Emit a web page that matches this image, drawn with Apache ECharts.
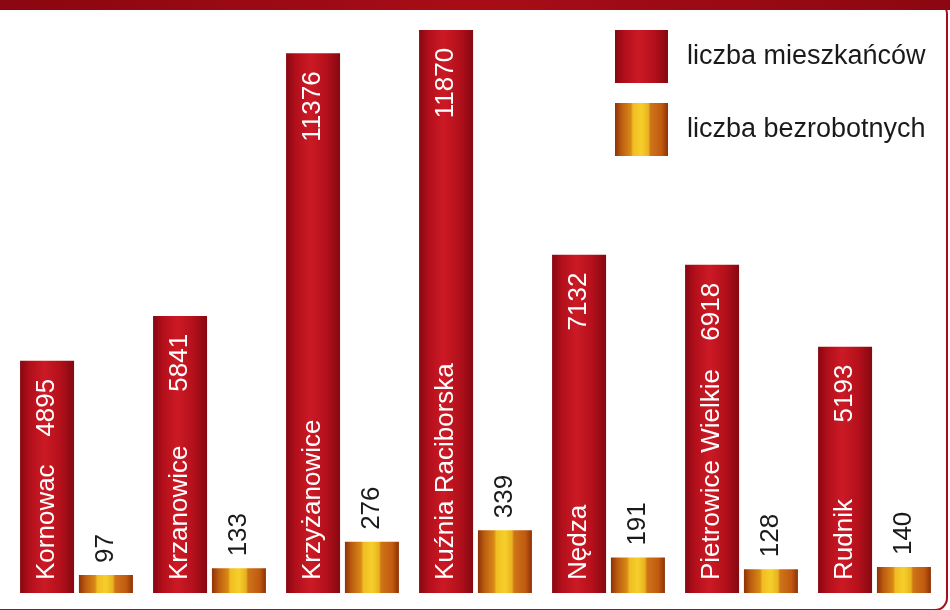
<!DOCTYPE html>
<html>
<head>
<meta charset="utf-8">
<style>
  html, body { margin: 0; padding: 0; background: #fff; }
  #chart { width: 950px; height: 610px; }
</style>
<script src="https://cdn.jsdelivr.net/npm/echarts@6/dist/echarts.min.js"></script>
</head>
<body>
<div id="chart"></div>
<script>
// dane
var gminy = ['Kornowac', 'Krzanowice', 'Krzyżanowice', 'Kuźnia Raciborska', 'Nędza', 'Pietrowice Wielkie', 'Rudnik']
var mieszkancy = [4895, 5841, 11376, 11870, 7132, 6918, 5193]
var bezrobotni = [97, 133, 276, 339, 191, 128, 140]
var nazwySerii = ['liczba mieszkańców', 'liczba bezrobotnych']

var FONT = 'Liberation Sans, Arial, sans-serif'

var chart = echarts.init(document.getElementById('chart'))

// gradient czerwony (poziomo)
var red = new echarts.graphic.LinearGradient(0, 0, 1, 0, [
  { offset: 0, color: '#880711' },
  { offset: 0.18, color: '#b20f1b' },
  { offset: 0.45, color: '#cc1a25' },
  { offset: 0.75, color: '#b3101b' },
  { offset: 1, color: '#850811' }
])
// gradient zloty
var gold = new echarts.graphic.LinearGradient(0, 0, 1, 0, [
  { offset: 0, color: '#8e3206' },
  { offset: 0.12, color: '#bb5c10' },
  { offset: 0.3, color: '#d98a16' },
  { offset: 0.34, color: '#f0bd22' },
  { offset: 0.5, color: '#f6cf2b' },
  { offset: 0.63, color: '#e8b21f' },
  { offset: 0.67, color: '#cf7418' },
  { offset: 0.88, color: '#c05a10' },
  { offset: 1, color: '#8e3206' }
])

var option = {
  animation: false,
  backgroundColor: '#fff',
  graphic: [
    // ramka
    {
      type: 'rect',
      shape: { x: -20, y: 2, width: 967, height: 608, r: 12 },
      style: { fill: 'none', stroke: '#a30f1a', lineWidth: 2 },
      z: 100
    },
    // pasek u gory
    {
      type: 'rect',
      shape: { x: 0, y: 0, width: 950, height: 10 },
      style: {
        fill: new echarts.graphic.LinearGradient(0, 0, 1, 0, [
          { offset: 0, color: '#8a0610' },
          { offset: 0.5, color: '#a80d17' },
          { offset: 1, color: '#8c0711' }
        ])
      },
      z: 101
    }
  ],
  grid: { left: 10, right: 9, top: 0, bottom: 17 },
  legend: {
    orient: 'vertical',
    left: 610,
    top: 25,
    icon: 'rect',
    itemWidth: 53,
    itemHeight: 53,
    itemGap: 20,
    textStyle: { fontFamily: FONT, fontSize: 27, color: '#1a1a1a', padding: [0, 0, 0, 14] },
    data: nazwySerii
  },
  xAxis: {
    type: 'category',
    data: gminy,
    z: 10,
    axisLine: { show: false },
    axisTick: { show: false },
    axisLabel: {
      interval: 0,
      inside: true,
      rotate: 90,
      margin: 13,
      align: 'left',
      verticalAlign: 'bottom',
      lineHeight: 60,
      color: '#fff',
      fontFamily: FONT,
      fontSize: 26
    }
  },
  yAxis: [
    { type: 'value', min: 0, max: 12500, show: false, splitLine: { show: false } },
    { type: 'value', min: 0, max: 3200, show: false, splitLine: { show: false } }
  ],
  series: [
    {
      name: nazwySerii[0],
      type: 'bar',
      yAxisIndex: 0,
      barWidth: 54,
      barGap: '9%',
      data: mieszkancy,
      itemStyle: { color: red },
      label: {
        show: true,
        position: 'insideTop',
        distance: 18,
        rotate: 90,
        align: 'right',
        verticalAlign: 'middle',
        color: '#fff',
        fontFamily: FONT,
        fontSize: 26
      }
    },
    {
      name: nazwySerii[1],
      type: 'bar',
      yAxisIndex: 1,
      barWidth: 54,
      data: bezrobotni,
      itemStyle: { color: gold },
      label: {
        show: true,
        position: 'top',
        distance: 12,
        rotate: 90,
        align: 'left',
        verticalAlign: 'middle',
        color: '#1a1a1a',
        fontFamily: FONT,
        fontSize: 26
      }
    }
  ]
}

chart.setOption(option)
window.addEventListener('resize', function() {
  chart.resize()
})
</script>
</body>
</html>
